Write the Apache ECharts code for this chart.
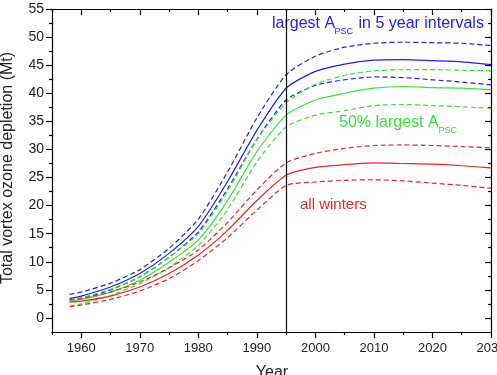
<!DOCTYPE html>
<html>
<head>
<meta charset="utf-8">
<script src="https://cdn.jsdelivr.net/npm/echarts@6/dist/echarts.min.js"></script>
<style>
html,body{margin:0;padding:0;background:#fff;}
#c{width:497px;height:375px;}
</style>
</head>
<body>
<div id="c"></div>
<script>
// ---- data ----
var years = [1958,1960,1965,1970,1975,1980,1985,1990,1995,2000,2005,2010,2015,2020,2025,2030];

var blueMid   = [3.5,3.9,5.5,7.9,11.5,16.3,24.3,33.4,40.9,43.9,45.2,45.9,46.0,45.8,45.6,45.1];
var blueHigh  = [4.2,4.6,6.2,8.6,12.4,17.6,26.0,35.6,43.3,46.6,48.2,48.9,49.1,49.0,48.9,48.5];
var blueLow   = [3.1,3.4,5.0,7.3,10.8,15.3,23.0,31.8,38.8,41.4,42.4,42.9,42.8,42.4,42.0,41.5];

var greenMid  = [3.0,3.3,4.6,6.7,9.9,13.9,20.9,29.6,36.1,38.8,40.0,40.9,41.2,41.0,40.9,40.6];
var greenHigh = [3.2,3.6,5.1,7.3,10.8,15.0,22.6,31.7,38.3,41.6,43.2,44.0,44.2,44.2,44.1,44.0];
var greenLow  = [2.1,2.5,4.0,6.1,9.0,12.9,19.3,27.8,34.0,36.1,36.9,37.8,38.0,37.8,37.6,37.3];

var redMid    = [2.8,3.0,3.9,5.5,7.9,11.2,15.6,20.9,25.4,26.8,27.3,27.6,27.5,27.4,27.1,26.7];
var redHigh   = [3.3,3.5,4.6,6.4,8.9,12.1,17.0,22.8,27.6,29.3,30.2,30.7,30.8,30.7,30.5,30.3];
var redLow    = [2.0,2.3,3.3,4.8,7.0,10.2,14.3,19.2,23.6,24.2,24.5,24.6,24.4,24.0,23.6,23.1];

var xMajor = [1960,1970,1980,1990,2000,2010,2020,2030];
var xMinor = [1955,1965,1975,1985,1995,2005,2015,2025];
var yMajor = [0,5,10,15,20,25,30,35,40,45,50,55];
var yMinor = [2.5,7.5,12.5,17.5,22.5,27.5,32.5,37.5,42.5,47.5,52.5];
var markYear = 1995;

// ---- chart ----
var BLUE = '#2424d4', GREEN = '#3ddf3d', RED = '#e5262b', INK = '#222';
var FONT = '"Liberation Sans", Arial, sans-serif';

function pairs(vals){ return years.map(function(y,i){ return [y, vals[i]]; }); }
function line(name, vals, color, dashed){
  return {
    name: name, type: 'line', data: pairs(vals), xAxisIndex: 0, yAxisIndex: 0,
    showSymbol: false, symbol: 'none', smooth: 0.22,
    lineStyle: {color: color, width: 1.2, type: dashed ? [5,3] : 'solid'},
    silent: true, animation: false
  };
}
function plain(v){ return String(v); }
function xAx(pos, vals, len, inside, labels, lineShow){
  return {
    type: 'value', position: pos, min: 1955, max: 2030, gridIndex: 0,
    axisLine: {show: lineShow, onZero: false, lineStyle: {color: '#000', width: 1.2}},
    axisTick: {show: true, inside: inside, length: len, customValues: vals, lineStyle: {color: '#000', width: 1.2}},
    axisLabel: labels ? {show: true, customValues: vals, formatter: plain, margin: 10, fontSize: 13, color: INK, fontFamily: FONT,
                         hideOverlap: false} : {show: false},
    splitLine: {show: false}
  };
}
function yAx(pos, vals, len, inside, labels, lineShow){
  return {
    type: 'value', position: pos, min: -2.5, max: 55, gridIndex: 0,
    axisLine: {show: lineShow, onZero: false, lineStyle: {color: '#000', width: 1.2}},
    axisTick: {show: true, inside: inside, length: len, customValues: vals, lineStyle: {color: '#000', width: 1.2}},
    axisLabel: labels ? {show: true, customValues: vals, formatter: plain, margin: 8, fontSize: 14, color: INK, fontFamily: FONT} : {show: false},
    splitLine: {show: false}
  };
}

var series = [
  line('blueHigh', blueHigh, BLUE, true),
  line('blueMid', blueMid, BLUE, false),
  line('blueLow', blueLow, BLUE, true),
  line('greenHigh', greenHigh, GREEN, true),
  line('greenMid', greenMid, GREEN, false),
  line('greenLow', greenLow, GREEN, true),
  line('redHigh', redHigh, RED, true),
  line('redMid', redMid, RED, false),
  line('redLow', redLow, RED, true)
];
series[1].markLine = {
  silent: true, symbol: 'none', animation: false,
  label: {show: false},
  lineStyle: {color: '#000', width: 1.2, type: 'solid'},
  data: [{xAxis: markYear}]
};

var chart = echarts.init(document.getElementById('c'), null, {renderer: 'canvas'});
chart.setOption({
  animation: false,
  backgroundColor: '#fff',
  grid: {left: 52, right: 6, top: 9, bottom: 43, containLabel: false, outerBoundsMode: 'none'},
  xAxis: [
    xAx('bottom', xMajor, 6, false, true, true),
    xAx('bottom', xMinor, 3, false, false, false),
    xAx('top', xMajor, 6, true, false, true),
    xAx('top', xMinor, 3, true, false, false)
  ],
  yAxis: [
    yAx('left', yMajor, 6, false, true, true),
    yAx('left', yMinor, 3, false, false, false),
    yAx('right', yMajor, 6, true, false, true),
    yAx('right', yMinor, 3, true, false, false)
  ],
  series: series,
  graphic: [
    {type: 'text', left: 272, top: 16, silent: true,
     style: {text: 'largest A', fill: BLUE, fontSize: 16, fontFamily: FONT}},
    {type: 'text', left: 334.5, top: 27, silent: true,
     style: {text: 'PSC', fill: BLUE, fontSize: 9, fontFamily: FONT}},
    {type: 'text', left: 358.5, top: 16, silent: true,
     style: {text: 'in 5 year intervals', fill: BLUE, fontSize: 16, fontFamily: FONT}},

    {type: 'text', left: 339, top: 115, silent: true,
     style: {text: '50% largest A', fill: GREEN, fontSize: 16, fontFamily: FONT}},
    {type: 'text', left: 438.5, top: 126.5, silent: true,
     style: {text: 'PSC', fill: GREEN, fontSize: 9, fontFamily: FONT}},

    {type: 'text', left: 300, top: 197, silent: true,
     style: {text: 'all winters', fill: RED, fontSize: 15, fontFamily: FONT}},

    {type: 'text', x: 8, y: 168, rotation: Math.PI/2, silent: true,
     style: {text: 'Total vortex ozone depletion (Mt)', fill: INK, fontSize: 16, fontFamily: FONT,
             align: 'center', verticalAlign: 'middle'}},
    {type: 'text', x: 272, y: 373, silent: true,
     style: {text: 'Year', fill: INK, fontSize: 16, fontFamily: FONT,
             align: 'center', verticalAlign: 'middle'}}
  ]
});
</script>
</body>
</html>
